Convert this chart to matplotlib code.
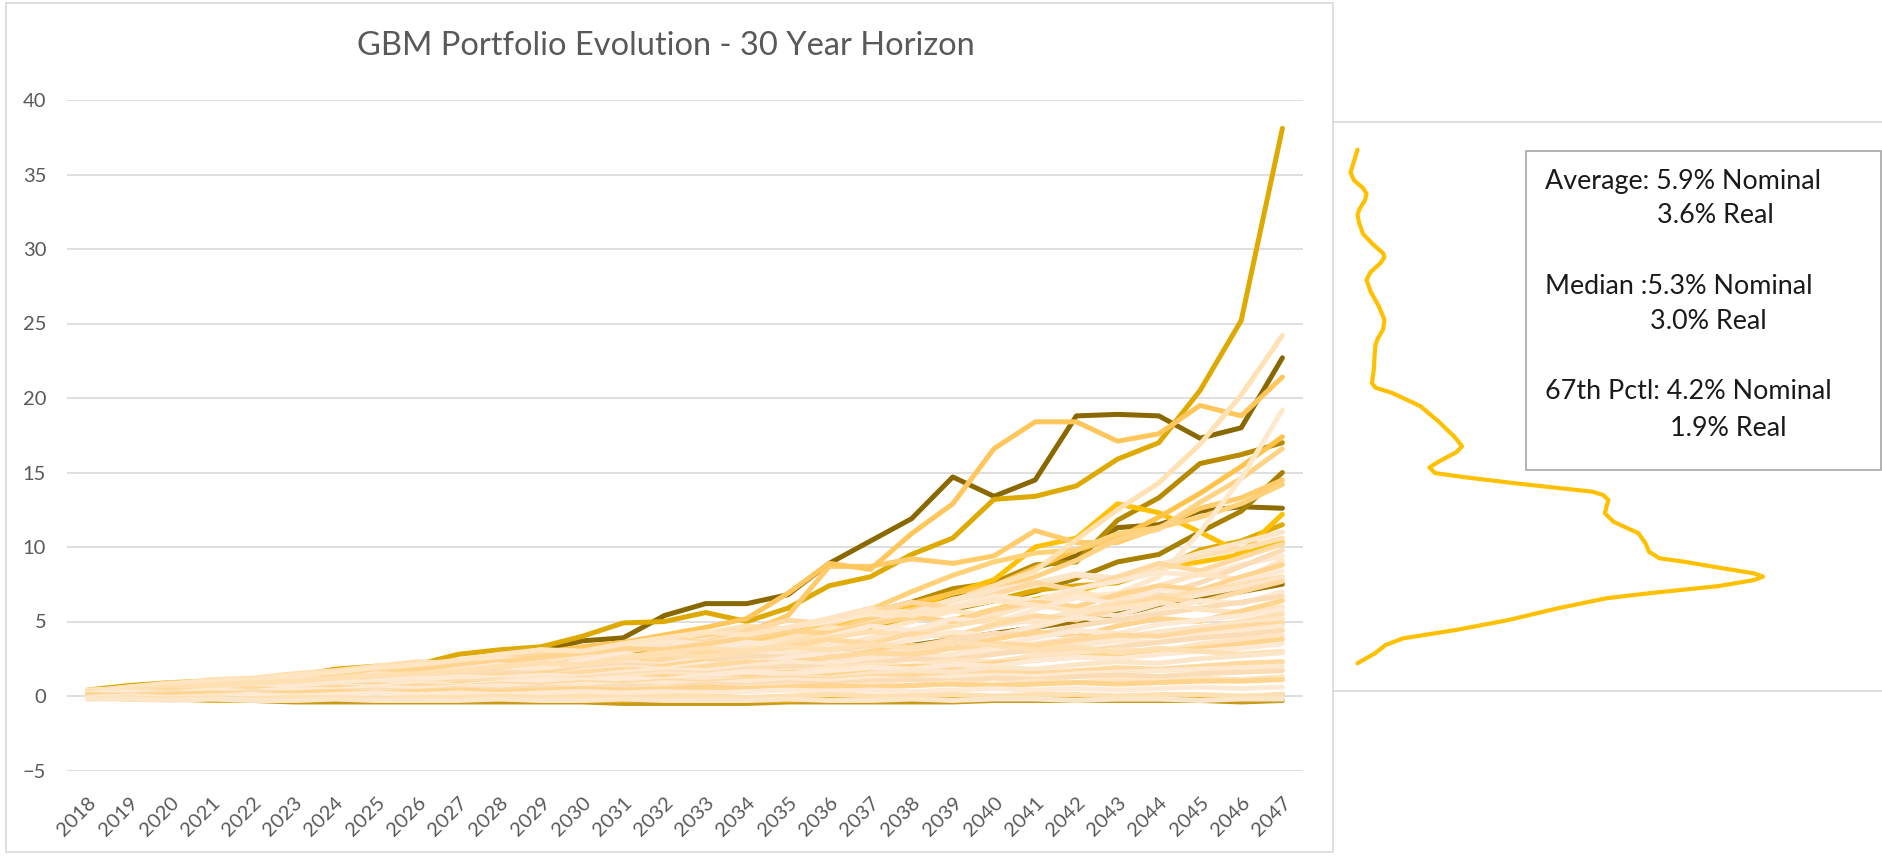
import matplotlib
matplotlib.use('Agg')
import matplotlib.pyplot as plt
from matplotlib.patches import Rectangle
from matplotlib.transforms import ScaledTranslation

plt.rcParams['font.family'] = ['Lato', 'DejaVu Sans']

W, H = 1883, 858
years = list(range(2018, 2048))

# paths that stand out above the pack
path_a = [0.4, 0.7, 0.9, 1.0, 1.1, 1.3, 1.8, 2.0, 2.1, 2.8, 3.1, 3.3, 4.0, 4.9, 5.0, 5.6, 5.0, 5.9, 7.4, 8.0, 9.5, 10.6, 13.2, 13.4, 14.1, 15.9, 17.0, 20.5, 25.2, 38.1]
path_b = [0.3, 0.5, 0.7, 0.8, 1.0, 1.1, 1.4, 1.6, 1.8, 2.2, 2.6, 3.0, 3.7, 3.9, 5.4, 6.2, 6.2, 6.8, 8.9, 10.4, 11.9, 14.7, 13.4, 14.5, 18.8, 18.9, 18.8, 17.3, 18.0, 22.7]
path_c = [0.3, 0.6, 0.8, 0.9, 1.0, 1.2, 1.4, 1.6, 1.8, 2.2, 2.5, 2.9, 3.3, 3.6, 4.1, 4.6, 5.2, 6.9, 8.9, 8.5, 10.9, 12.9, 16.6, 18.4, 18.4, 17.1, 17.6, 19.5, 18.8, 21.4]
path_d = [0.2, 0.4, 0.5, 0.6, 0.7, 0.8, 1.0, 1.2, 1.3, 1.6, 1.8, 2.1, 2.4, 2.7, 3.0, 3.4, 3.8, 4.5, 5.1, 5.6, 6.3, 7.2, 7.6, 8.8, 9.0, 11.8, 13.3, 15.6, 16.2, 17.0]
path_e = [0.2, 0.4, 0.5, 0.6, 0.8, 0.9, 1.0, 1.2, 1.4, 1.6, 1.8, 2.0, 2.3, 2.6, 3.0, 3.3, 3.8, 4.3, 4.9, 5.6, 6.2, 6.9, 7.4, 8.6, 9.8, 10.6, 12.0, 13.6, 15.4, 17.4]
path_f = [0.1, 0.3, 0.4, 0.5, 0.6, 0.7, 0.8, 1.0, 1.1, 1.3, 1.5, 1.8, 2.0, 2.2, 2.6, 2.9, 3.3, 3.8, 4.4, 5.2, 5.8, 6.4, 7.1, 8.0, 9.1, 10.5, 11.2, 13.0, 14.6, 16.6]
path_g = [0.2, 0.4, 0.5, 0.6, 0.7, 0.8, 0.9, 1.1, 1.3, 1.5, 1.6, 1.9, 2.2, 2.5, 2.9, 3.1, 3.7, 4.2, 4.9, 5.3, 6.0, 6.6, 7.3, 8.6, 9.4, 11.3, 11.5, 12.4, 12.7, 12.6]
path_h = [0.2, 0.4, 0.5, 0.5, 0.6, 0.7, 0.9, 1.0, 1.2, 1.4, 1.6, 1.8, 2.1, 2.4, 2.7, 3.0, 3.5, 4.1, 4.7, 5.3, 5.9, 6.9, 7.8, 10.0, 10.6, 12.9, 12.3, 11.0, 9.6, 12.2]
path_i = [0.3, 0.5, 0.7, 0.8, 0.9, 1.0, 1.2, 1.4, 1.6, 1.9, 2.1, 2.4, 2.7, 3.0, 3.4, 3.9, 4.3, 5.4, 8.7, 8.7, 9.2, 8.9, 9.4, 11.1, 10.3, 10.3, 11.3, 12.6, 13.3, 14.5]
path_j = [0.1, 0.3, 0.4, 0.5, 0.6, 0.7, 0.8, 0.9, 1.0, 1.2, 1.4, 1.6, 1.8, 2.1, 2.4, 2.7, 3.1, 3.6, 4.2, 4.9, 5.6, 6.4, 7.4, 8.4, 10.5, 12.5, 14.3, 16.9, 20.2, 24.2]
path_k = [0.1, 0.2, 0.3, 0.4, 0.5, 0.6, 0.7, 0.8, 0.9, 1.0, 1.2, 1.4, 1.6, 1.8, 2.0, 2.3, 2.6, 3.0, 3.4, 3.9, 4.4, 5.0, 5.6, 6.2, 6.6, 6.9, 8.0, 11.0, 14.6, 19.2]
path_l = [0.1, 0.3, 0.4, 0.5, 0.6, 0.7, 0.8, 1.0, 1.1, 1.3, 1.5, 1.7, 1.9, 2.2, 2.5, 2.8, 3.2, 3.6, 4.1, 4.7, 5.1, 5.8, 6.4, 7.0, 7.9, 9.0, 9.5, 11.0, 12.4, 15.0]
path_m = [0.2, 0.3, 0.4, 0.5, 0.6, 0.7, 0.8, 0.9, 1.1, 1.3, 1.4, 1.6, 1.9, 2.1, 2.4, 2.7, 3.1, 3.5, 4.0, 4.6, 5.2, 5.9, 6.4, 7.1, 7.4, 7.6, 8.5, 9.8, 10.4, 11.5]
path_n = [0.2, 0.4, 0.5, 0.6, 0.7, 0.8, 1.0, 1.1, 1.3, 1.5, 1.7, 2.0, 2.2, 2.5, 2.8, 3.2, 3.6, 4.1, 4.8, 5.8, 7.0, 8.1, 9.0, 9.6, 9.8, 10.9, 11.3, 12.0, 12.9, 14.2]
path_o = [0.1, 0.2, 0.3, 0.3, 0.4, 0.5, 0.6, 0.7, 0.8, 0.9, 1.0, 1.2, 1.3, 1.5, 1.7, 1.9, 2.1, 2.4, 2.7, 3.0, 3.4, 3.8, 4.2, 4.6, 5.0, 5.5, 6.0, 6.6, 7.0, 7.5]
path_p = [0.1, 0.2, 0.3, 0.4, 0.5, 0.6, 0.7, 0.8, 0.9, 1.0, 1.2, 1.4, 1.6, 1.8, 2.0, 2.3, 2.6, 3.0, 3.4, 3.8, 4.4, 5.1, 5.8, 6.5, 7.0, 7.8, 8.6, 9.0, 9.5, 10.3]
path_q = [-0.1, -0.2, -0.2, -0.3, -0.3, -0.3, -0.2, -0.3, -0.3, -0.2, -0.2, -0.3, -0.3, -0.3, -0.2, -0.3, -0.3, -0.3, -0.2, -0.2, -0.2, -0.1, -0.1, -0.1, -0.1, -0.2, -0.2, -0.2, -0.1, 0.1]
path_r = [0.0, -0.1, -0.2, -0.2, -0.3, -0.4, -0.4, -0.4, -0.4, -0.4, -0.4, -0.4, -0.4, -0.5, -0.5, -0.5, -0.5, -0.4, -0.4, -0.4, -0.4, -0.4, -0.3, -0.3, -0.3, -0.3, -0.3, -0.3, -0.4, -0.3]

top_paths = [path_r, path_q, path_o, path_g, path_l, path_d, path_b, path_m, path_a, path_h, path_p,
             path_e, path_i, path_n, path_f, path_c, path_k, path_j]
top_colors = ['#C99A1A', '#E8B022', '#9C7500', '#8F6B00', '#A88000', '#B88A00', '#8A6800', '#E0A900', '#DEA900',
              '#FFC000', '#FFC000', '#FFC34A', '#FFCB6B', '#FFD27A', '#FFD384', '#FFC65C', '#FFE9CC', '#FFE1B3']

# the pale bulk of the paths
light_1 = [0.3, 0.6, 0.9, 0.8, 1.1, 1.3, 1.2, 1.7, 2.0, 1.9, 2.4, 2.9, 2.7, 3.3, 3.9, 3.6, 4.4, 5.1, 4.8, 5.6, 6.3, 5.9, 6.8, 7.6, 7.1, 8.0, 8.9, 8.4, 9.3, 10.2]
light_2 = [0.2, 0.5, 0.6, 0.9, 0.8, 1.0, 1.4, 1.3, 1.6, 2.0, 1.8, 2.3, 2.7, 2.5, 3.0, 3.5, 3.3, 3.9, 4.6, 4.3, 5.0, 5.7, 5.4, 6.2, 7.0, 6.5, 7.4, 8.2, 7.8, 9.1]
light_3 = [0.4, 0.5, 0.8, 1.0, 0.9, 1.2, 1.1, 1.5, 1.4, 1.8, 2.1, 1.9, 2.4, 2.8, 2.6, 3.1, 3.6, 3.4, 4.0, 4.7, 4.4, 5.2, 4.9, 5.8, 6.6, 6.2, 7.1, 6.8, 7.7, 8.4]
light_4 = [0.1, 0.4, 0.5, 0.7, 0.9, 0.8, 1.1, 1.3, 1.2, 1.5, 1.8, 1.7, 2.1, 2.0, 2.5, 2.9, 2.7, 3.3, 3.8, 3.5, 4.2, 4.0, 4.8, 5.4, 5.1, 5.9, 6.6, 6.3, 7.0, 7.7]
light_5 = [0.3, 0.3, 0.6, 0.8, 0.7, 1.0, 0.9, 1.2, 1.4, 1.3, 1.6, 1.9, 1.8, 2.2, 2.1, 2.6, 3.0, 2.8, 3.3, 3.1, 3.8, 4.3, 4.0, 4.7, 5.3, 5.0, 5.8, 6.4, 6.2, 7.0]
light_6 = [0.0, 0.2, 0.4, 0.3, 0.6, 0.7, 0.9, 0.8, 1.1, 1.3, 1.2, 1.5, 1.7, 1.6, 2.0, 2.3, 2.1, 2.6, 2.5, 3.0, 3.4, 3.2, 3.8, 4.3, 4.0, 4.7, 5.2, 5.0, 5.7, 6.4]
light_7 = [0.2, 0.4, 0.3, 0.6, 0.5, 0.8, 0.7, 1.0, 1.2, 1.1, 1.4, 1.3, 1.7, 1.9, 1.8, 2.2, 2.1, 2.6, 2.9, 2.7, 3.2, 3.6, 3.4, 3.9, 4.4, 4.2, 4.8, 5.1, 5.4, 5.8]
light_8 = [0.1, 0.3, 0.5, 0.4, 0.6, 0.8, 0.7, 0.9, 1.1, 1.0, 1.3, 1.2, 1.5, 1.7, 1.6, 1.9, 2.2, 2.0, 2.5, 2.4, 2.9, 3.2, 3.0, 3.5, 3.9, 3.7, 4.3, 4.6, 4.9, 5.2]
light_9 = [0.3, 0.4, 0.5, 0.7, 0.6, 0.8, 1.0, 0.9, 1.1, 1.3, 1.2, 1.4, 1.3, 1.6, 1.8, 1.7, 2.0, 2.3, 2.1, 2.5, 2.4, 2.8, 3.1, 2.9, 3.4, 3.7, 3.6, 4.1, 4.4, 4.7]
light_10 = [0.0, 0.2, 0.3, 0.5, 0.4, 0.6, 0.5, 0.7, 0.9, 0.8, 1.0, 1.2, 1.1, 1.3, 1.5, 1.4, 1.7, 1.6, 1.9, 2.1, 2.0, 2.4, 2.3, 2.7, 2.9, 3.1, 3.0, 3.5, 3.8, 4.1]
light_11 = [0.2, 0.3, 0.3, 0.5, 0.4, 0.6, 0.7, 0.6, 0.8, 0.7, 0.9, 1.1, 1.0, 1.2, 1.1, 1.4, 1.6, 1.5, 1.7, 1.9, 1.8, 2.1, 2.0, 2.4, 2.6, 2.5, 2.8, 3.0, 3.2, 3.5]
light_12 = [0.1, 0.2, 0.1, 0.3, 0.4, 0.3, 0.5, 0.6, 0.5, 0.7, 0.6, 0.8, 0.9, 0.8, 1.0, 1.2, 1.1, 1.3, 1.2, 1.5, 1.7, 1.6, 1.9, 1.8, 2.1, 2.3, 2.2, 2.5, 2.7, 2.9]
light_13 = [0.3, 0.2, 0.4, 0.3, 0.5, 0.4, 0.6, 0.5, 0.7, 0.6, 0.8, 0.7, 0.9, 0.8, 1.0, 0.9, 1.1, 1.2, 1.1, 1.3, 1.4, 1.3, 1.6, 1.5, 1.7, 1.9, 1.8, 2.0, 2.2, 2.3]
light_14 = [0.0, 0.1, 0.2, 0.1, 0.3, 0.2, 0.3, 0.4, 0.3, 0.5, 0.4, 0.6, 0.5, 0.7, 0.6, 0.8, 0.7, 0.9, 0.8, 1.0, 1.1, 1.0, 1.2, 1.1, 1.3, 1.4, 1.3, 1.5, 1.6, 1.7]
light_15 = [0.1, 0.0, 0.1, 0.2, 0.1, 0.2, 0.3, 0.2, 0.3, 0.4, 0.3, 0.4, 0.5, 0.4, 0.5, 0.6, 0.5, 0.6, 0.7, 0.6, 0.7, 0.8, 0.7, 0.8, 0.9, 0.8, 0.9, 1.0, 1.0, 1.1]
light_16 = [-0.1, 0.0, -0.1, 0.0, 0.1, 0.0, 0.1, 0.2, 0.1, 0.2, 0.1, 0.2, 0.3, 0.2, 0.3, 0.2, 0.3, 0.4, 0.3, 0.4, 0.3, 0.4, 0.5, 0.4, 0.5, 0.4, 0.5, 0.6, 0.5, 0.6]
light_17 = [-0.2, -0.1, -0.2, -0.1, -0.2, -0.1, -0.1, -0.2, -0.1, -0.1, 0.0, -0.1, 0.0, -0.1, 0.0, 0.0, -0.1, 0.0, 0.1, 0.0, 0.0, 0.1, 0.0, 0.1, 0.1, 0.0, 0.1, 0.1, 0.0, 0.1]
light_18 = [0.2, 0.3, 0.5, 0.6, 0.8, 0.7, 0.9, 1.0, 1.2, 1.1, 1.3, 1.5, 1.4, 1.7, 1.9, 2.2, 2.0, 2.4, 2.8, 3.2, 3.0, 3.6, 4.1, 4.6, 5.3, 6.0, 6.8, 7.6, 8.7, 9.8]
light_19 = [0.3, 0.6, 0.8, 1.0, 1.1, 1.4, 1.6, 1.9, 2.1, 2.4, 2.8, 3.1, 3.0, 3.5, 3.9, 4.3, 4.1, 4.6, 5.2, 5.7, 5.4, 5.9, 6.4, 6.1, 5.7, 5.9, 6.3, 5.8, 5.6, 6.0]
light_20 = [0.1, 0.4, 0.6, 0.7, 0.9, 1.0, 1.2, 1.4, 1.5, 1.7, 2.0, 2.2, 2.1, 2.5, 2.8, 2.6, 3.0, 3.3, 3.1, 3.5, 3.2, 3.6, 3.4, 3.1, 3.3, 2.9, 3.2, 3.0, 2.8, 3.0]
light_21 = [0.2, 0.4, 0.5, 0.6, 0.8, 0.9, 1.1, 1.0, 1.3, 1.5, 1.7, 1.6, 2.0, 2.3, 2.2, 2.6, 2.9, 3.3, 3.1, 3.7, 4.2, 4.0, 4.7, 5.1, 5.6, 5.4, 6.2, 6.8, 7.3, 7.9]
light_22 = [0.0, 0.1, 0.3, 0.4, 0.3, 0.5, 0.6, 0.8, 0.7, 0.9, 1.1, 1.0, 1.2, 1.4, 1.6, 1.5, 1.8, 2.0, 1.9, 2.2, 2.5, 2.4, 2.8, 3.1, 3.0, 3.3, 3.6, 3.9, 4.1, 4.4]
light_23 = [0.3, 0.5, 0.7, 0.9, 1.0, 1.2, 1.4, 1.6, 1.8, 2.1, 2.3, 2.6, 2.9, 3.2, 3.1, 3.5, 3.9, 4.4, 4.2, 4.8, 5.3, 5.0, 5.8, 6.3, 6.0, 6.8, 7.4, 7.1, 8.0, 8.8]
light_24 = [0.2, 0.4, 0.6, 0.8, 1.0, 1.1, 1.3, 1.5, 1.7, 1.9, 2.2, 2.5, 2.8, 3.0, 3.4, 3.8, 4.1, 4.6, 5.2, 5.8, 5.6, 6.4, 7.1, 7.6, 8.2, 7.9, 8.8, 9.6, 10.3, 11.0]
light_25 = [0.1, 0.4, 0.7, 0.9, 1.0, 1.3, 1.5, 1.4, 1.8, 2.2, 2.5, 2.4, 2.9, 3.3, 3.7, 3.5, 4.1, 4.6, 5.0, 5.5, 5.3, 6.0, 6.7, 6.4, 7.2, 7.7, 8.3, 8.1, 8.8, 9.4]
light_26 = [0.3, 0.4, 0.6, 0.8, 1.0, 0.9, 1.2, 1.4, 1.3, 1.7, 1.9, 2.2, 2.1, 2.6, 2.9, 3.2, 3.0, 3.5, 3.9, 4.3, 4.1, 4.7, 5.2, 5.0, 5.7, 6.2, 6.6, 7.0, 7.5, 8.0]
light_27 = [0.2, 0.3, 0.5, 0.7, 0.6, 0.9, 1.0, 1.2, 1.1, 1.4, 1.6, 1.5, 1.9, 2.1, 2.0, 2.4, 2.7, 2.6, 3.0, 3.4, 3.3, 3.8, 4.2, 4.1, 4.7, 5.1, 5.5, 5.9, 6.3, 6.7]
light_28 = [0.0, 0.2, 0.3, 0.4, 0.6, 0.5, 0.7, 0.9, 0.8, 1.0, 1.2, 1.1, 1.4, 1.6, 1.5, 1.8, 2.0, 2.2, 2.1, 2.5, 2.8, 2.7, 3.1, 3.4, 3.6, 3.9, 4.3, 4.6, 5.0, 5.5]
light_29 = [0.1, 0.2, 0.3, 0.3, 0.5, 0.4, 0.6, 0.7, 0.6, 0.8, 0.9, 1.0, 0.9, 1.1, 1.3, 1.2, 1.4, 1.6, 1.5, 1.8, 2.0, 1.9, 2.2, 2.4, 2.6, 2.8, 3.0, 3.2, 3.5, 3.8]
light_30 = [0.2, 0.3, 0.2, 0.4, 0.3, 0.5, 0.4, 0.6, 0.5, 0.6, 0.7, 0.6, 0.8, 0.7, 0.9, 0.8, 1.0, 1.1, 1.0, 1.2, 1.1, 1.3, 1.4, 1.3, 1.5, 1.6, 1.7, 1.8, 1.9, 2.0]
light_31 = [0.0, 0.1, 0.0, 0.2, 0.1, 0.2, 0.2, 0.3, 0.2, 0.4, 0.3, 0.4, 0.5, 0.4, 0.6, 0.5, 0.6, 0.7, 0.6, 0.8, 0.7, 0.9, 0.8, 1.0, 0.9, 1.1, 1.0, 1.2, 1.1, 1.3]
light_32 = [-0.2, -0.2, -0.3, -0.2, -0.3, -0.3, -0.2, -0.3, -0.3, -0.3, -0.2, -0.3, -0.3, -0.2, -0.3, -0.3, -0.3, -0.2, -0.3, -0.3, -0.2, -0.3, -0.2, -0.2, -0.3, -0.2, -0.2, -0.3, -0.2, -0.2]
light_33 = [0.3, 0.5, 0.8, 1.1, 1.2, 1.5, 1.7, 2.0, 2.3, 2.2, 2.7, 3.1, 3.0, 3.5, 3.9, 4.2, 4.7, 4.5, 5.2, 5.9, 5.6, 6.5, 7.0, 7.4, 8.1, 7.7, 8.6, 9.4, 9.9, 10.6]
light_34 = [0.1, 0.3, 0.4, 0.6, 0.5, 0.7, 0.9, 0.8, 1.0, 1.2, 1.4, 1.3, 1.6, 1.8, 1.7, 2.0, 2.3, 2.2, 2.6, 2.9, 2.8, 3.2, 3.5, 3.4, 3.8, 4.1, 4.0, 4.4, 4.7, 4.9]

light_paths = [light_33, light_24, light_1, light_25, light_18, light_2, light_23, light_3, light_26, light_21,
               light_4, light_5, light_27, light_19, light_6, light_7, light_28, light_8, light_34, light_9,
               light_22, light_10, light_29, light_11, light_20, light_12, light_13, light_30, light_14,
               light_31, light_15, light_16, light_17, light_32]
light_colors = ['#FFE0B2', '#FCE6CA', '#FFD9A0', '#FDE8D0', '#FADDB6', '#FFE5C2', '#FFD48F', '#FEEAD4']

# distribution curve on the right (value, density)
dens_value = [38.05, 37.24, 36.44, 35.90, 35.36, 34.95, 34.50, 33.88, 33.48, 32.94, 32.13, 31.33, 30.78, 30.52,
              30.12, 29.44, 28.90, 28.10, 27.02, 26.08, 25.41, 24.73, 24.33, 23.52, 22.71, 21.64, 21.32, 20.96,
              20.02, 18.95, 17.87, 17.20, 16.79, 16.12, 15.72, 15.32, 15.04, 14.60, 14.01, 13.78, 13.43, 12.96,
              12.49, 11.90, 11.09, 10.38, 9.79, 9.33, 9.09, 8.67, 8.27, 8.04, 7.80, 7.38, 6.87, 6.52, 5.81,
              4.99, 4.29, 3.70, 3.23, 2.65, 1.95]
dens_height = [0.0049, 0.0042, 0.0035, 0.0042, 0.0060, 0.0067, 0.0064, 0.0053, 0.0049, 0.0052, 0.0060, 0.0082,
               0.0100, 0.0103, 0.0096, 0.0075, 0.0067, 0.0075, 0.0092, 0.0103, 0.0100, 0.0089, 0.0085, 0.0083,
               0.0082, 0.0078, 0.0085, 0.0118, 0.0175, 0.0211, 0.0243, 0.0258, 0.0247, 0.0211, 0.0193, 0.0204,
               0.0261, 0.0365, 0.0519, 0.0540, 0.0551, 0.0547, 0.0544, 0.0561, 0.0611, 0.0625, 0.0632, 0.0653,
               0.0702, 0.0772, 0.0842, 0.0860, 0.0842, 0.0772, 0.0632, 0.0547, 0.0449, 0.0351, 0.0246, 0.0140,
               0.0105, 0.0084, 0.0049]

stat_lines = ['Average: 5.9% Nominal', '3.6% Real', 'Median :5.3% Nominal', '3.0% Real',
              '67th Pctl: 4.2% Nominal', '1.9% Real']


def fx(px):
    return px / W


def fy(py):
    return 1 - py / H


fig = plt.figure(figsize=(W / 100, H / 100), dpi=100)

# chart frame of the main panel
fig.add_artist(Rectangle((fx(6), fy(852)), fx(1333) - fx(6), fy(3) - fy(852), transform=fig.transFigure,
                         fill=False, ec='#D9D9D9', lw=1.2))

ax = fig.add_axes([fx(67), fy(770.5), fx(1303) - fx(67), fy(100) - fy(770.5)])
for vals, col in zip(top_paths, top_colors):
    ax.plot(years, vals, color=col, lw=3.6, solid_joinstyle='round', solid_capstyle='round')
for k, vals in enumerate(light_paths):
    ax.plot(years, vals, color=light_colors[k % len(light_colors)], lw=3.6,
            solid_joinstyle='round', solid_capstyle='round')

ax.set_xlim(2017.5, 2047.5)
ax.set_ylim(-5, 40)
ax.set_yticks(range(-5, 41, 5))
ax.set_xticks(years)
ax.set_xticklabels([str(y) for y in years], rotation=45, ha='right', va='top', rotation_mode='anchor')
for lab in ax.get_xticklabels():
    lab.set_transform(lab.get_transform() + ScaledTranslation(0.06, 0, fig.dpi_scale_trans))
ax.tick_params(axis='both', length=0, colors='#595959', labelsize=14.5)
ax.tick_params(axis='y', pad=15)
ax.tick_params(axis='x', pad=17)
ax.yaxis.grid(True, color='#D9D9D9', lw=1.2)
ax.set_axisbelow(True)
for s in ax.spines.values():
    s.set_visible(False)

fig.text(fx(666), fy(46), 'GBM Portfolio Evolution - 30 Year Horizon', ha='center', va='center',
         fontsize=23.5, color='#595959')

# distribution panel on the right
dx = fig.add_axes([fx(1333), fy(691), fx(1883) - fx(1333), fy(122) - fy(691)])
dx.plot(dens_height, dens_value, color='#FFC000', lw=3, solid_joinstyle='round', solid_capstyle='round')
dx.set_xlim(0, 0.11)
dx.set_ylim(0, 40)
dx.set_xticks([])
dx.set_yticks([])
dx.spines['right'].set_visible(False)
dx.spines['left'].set_visible(False)
for s in ('top', 'bottom'):
    dx.spines[s].set_color('#D9D9D9')
    dx.spines[s].set_linewidth(1.2)

fig.add_artist(Rectangle((fx(1526), fy(470)), fx(1881) - fx(1526), fy(151) - fy(470), transform=fig.transFigure,
                         fill=False, ec='#A6A6A6', lw=1.2))
text_x = [1545.5, 1656.8, 1545.5, 1649.6, 1545.5, 1670.1]
text_base = [188.8, 223.2, 294.4, 328.9, 399.3, 435.6]
for s, tx, ty in zip(stat_lines, text_x, text_base):
    fig.text(fx(tx), fy(ty), s, ha='left', va='baseline', fontsize=19.4, color='#1A1A1A')

fig.savefig('out.png', dpi=100)
